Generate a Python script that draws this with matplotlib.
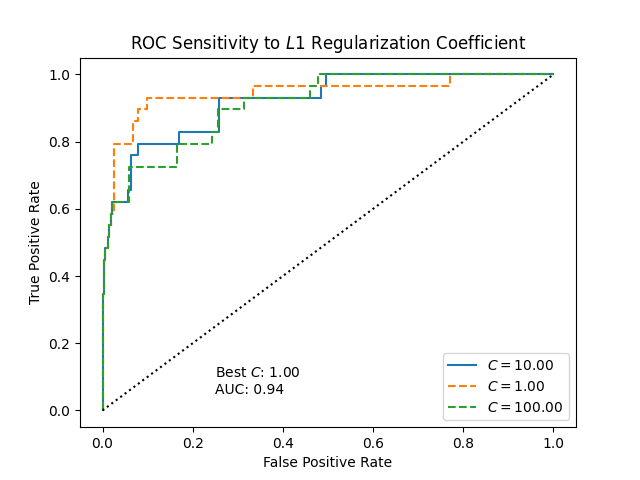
import matplotlib
matplotlib.use("Agg")
import matplotlib.pyplot as plt

low_fpr = [0.0, 0.0, 0.002, 0.002, 0.004, 0.004, 0.006, 0.006, 0.012, 0.012, 0.015, 0.015, 0.019, 0.019]
low_tpr = [0.0, 0.172, 0.172, 0.345, 0.345, 0.448, 0.448, 0.483, 0.483, 0.517, 0.517, 0.552, 0.552, 0.586]

fpr_c10 = low_fpr + [0.022, 0.022, 0.0556, 0.0556, 0.062, 0.062, 0.078, 0.078, 0.169, 0.169,
                     0.259, 0.259, 0.484, 0.484, 0.496, 0.496, 1.0]
tpr_c10 = low_tpr + [0.586, 0.621, 0.621, 0.655, 0.655, 0.759, 0.759, 0.793, 0.793, 0.828,
                     0.828, 0.931, 0.931, 0.966, 0.966, 1.0, 1.0]

fpr_c1 = low_fpr + [0.025, 0.025, 0.068, 0.068, 0.078, 0.078, 0.098, 0.098, 0.333, 0.333,
                    0.77, 0.77, 1.0]
tpr_c1 = low_tpr + [0.586, 0.793, 0.793, 0.862, 0.862, 0.897, 0.897, 0.931, 0.931, 0.966,
                    0.966, 1.0, 1.0]

fpr_c100 = low_fpr + [0.022, 0.022, 0.0585, 0.0585, 0.166, 0.166, 0.243, 0.243, 0.257, 0.257,
                      0.314, 0.314, 0.46, 0.46, 0.478, 0.478, 1.0]
tpr_c100 = low_tpr + [0.586, 0.621, 0.621, 0.724, 0.724, 0.793, 0.793, 0.828, 0.828, 0.897,
                      0.897, 0.931, 0.931, 0.966, 0.966, 1.0, 1.0]

labels = [r"$C=10.00$", r"$C=1.00$", r"$C=100.00$"]
best_c = 1.00
best_auc = 0.94

fig, ax = plt.subplots(figsize=(6.4, 4.8), dpi=100)
ax.plot(fpr_c10, tpr_c10, "-", color="#1f77b4", label=labels[0])
ax.plot(fpr_c1, tpr_c1, "--", color="#ff7f0e", label=labels[1])
ax.plot(fpr_c100, tpr_c100, "--", color="#2ca02c", label=labels[2])
ax.plot([0, 1], [0, 1], "k:")
ax.text(0.25, 0.05, "Best $C$: %.2f\nAUC: %.2f" % (best_c, best_auc))
ax.set_xlabel("False Positive Rate")
ax.set_ylabel("True Positive Rate")
ax.set_title(r"ROC Sensitivity to $L1$ Regularization Coefficient")
ax.legend(loc="lower right")
fig.savefig("out.png")
